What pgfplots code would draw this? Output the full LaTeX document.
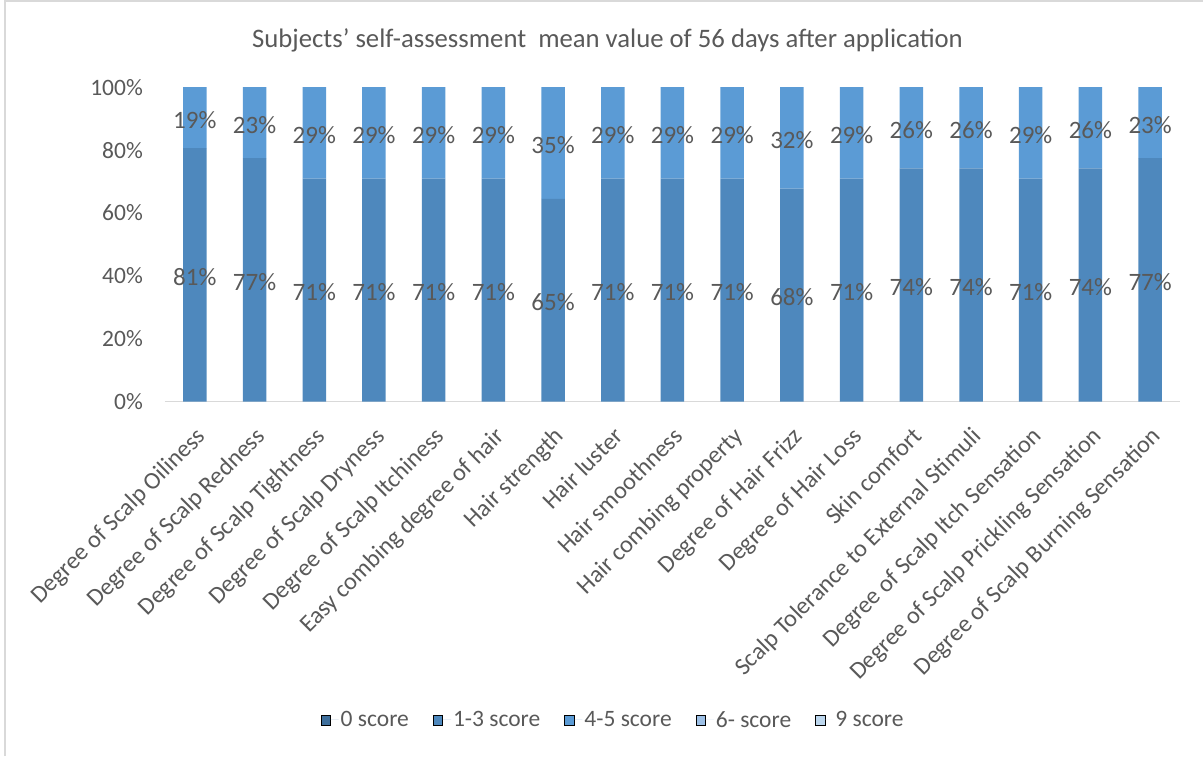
\documentclass[border=0pt]{standalone}
\usepackage{fontspec}
\setmainfont{Carlito}
\usepackage{pgfplots}
\usepackage{pgfplotstable}
\pgfplotsset{compat=1.18}
\definecolor{txt}{HTML}{595959}
\definecolor{cA}{HTML}{3E6F9C}
\definecolor{cB}{HTML}{4E88BD}
\definecolor{cC}{HTML}{5B9BD5}
\definecolor{cD}{HTML}{9DC0E6}
\definecolor{cE}{HTML}{BDD7EE}
\definecolor{axgray}{HTML}{D9D9D9}
\pgfplotstableread{
x s0 s13 s45 s6 s9
0 0 80.65 19.35 0 0
1 0 77.42 22.58 0 0
2 0 70.97 29.03 0 0
3 0 70.97 29.03 0 0
4 0 70.97 29.03 0 0
5 0 70.97 29.03 0 0
6 0 64.52 35.48 0 0
7 0 70.97 29.03 0 0
8 0 70.97 29.03 0 0
9 0 70.97 29.03 0 0
10 0 67.74 32.26 0 0
11 0 70.97 29.03 0 0
12 0 74.19 25.81 0 0
13 0 74.19 25.81 0 0
14 0 70.97 29.03 0 0
15 0 74.19 25.81 0 0
16 0 77.42 22.58 0 0
}\data
\begin{document}
\begin{tikzpicture}
\path[use as bounding box] (0,0) rectangle (1203pt,756pt);
\draw[axgray, line width=1.5pt] (5pt,0) -- (5pt,755pt) -- (1203pt,755pt);
\node[text=txt, font=\fontsize{26.7}{30}\selectfont] at (607.5pt,716pt) {Subjects' self-assessment\ \ mean value of 56 days after application};
\begin{axis}[
  at={(165pt,354.3pt)}, anchor=south west,
  scale only axis, width=1015pt, height=314.5pt,
  ybar stacked, bar width=23.5pt,
  xmin=-0.5, xmax=16.5, ymin=0, ymax=100,
  xtick=data,
  xticklabels={Degree of Scalp Oiliness,Degree of Scalp Redness,Degree of Scalp Tightness,Degree of Scalp Dryness,Degree of Scalp Itchiness,Easy combing degree of hair,Hair strength,Hair luster,Hair smoothness,Hair combing property,Degree of Hair Frizz,Degree of Hair Loss,Skin comfort,Scalp Tolerance to External Stimuli,Degree of Scalp Itch Sensation,Degree of Scalp Prickling Sensation,Degree of Scalp Burning Sensation},
  xticklabel style={xshift=12pt, yshift=-36pt, rotate=45, anchor=base east, inner sep=0pt, font=\fontsize{24.3}{28}\selectfont, text=txt},
  ytick={0,20,40,60,80,100},
  yticklabel={\pgfmathprintnumber{\tick}\%},
  yticklabel style={font=\fontsize{23.5}{27}\selectfont, text=txt, anchor=east, inner sep=0pt, xshift=-22pt},
  /pgf/number format/assume math mode=true,
  separate axis lines,
  axis x line*=bottom, axis y line*=left,
  x axis line style={draw=axgray, line width=1.5pt},
  y axis line style={draw=none},
  major tick length=0pt,
  legend columns=-1,
  legend style={at={(0.4414,-1.012)}, anchor=center, draw=none, fill=none,
    font=\fontsize{23.5}{28}\selectfont, text=txt,
    /tikz/every even column/.append style={column sep=22pt}},
  legend image code/.code={\draw[#1] (0pt,-5pt) rectangle (9.5pt,5pt); \path (9.5pt,0pt) -- (18pt,0pt);},
  every node near coord/.append style={font=\fontsize{25}{29}\selectfont, text=txt},
]
\addplot[fill=cA, draw=none] table[x=x,y=s0] {\data};
\addlegendentry{0 score}
\addplot[fill=cB, draw=none,
  visualization depends on={rawy \as \rawy},
  nodes near coords={\pgfmathprintnumber[fixed,precision=0]{\rawy}\%},
  every node near coord/.append style={anchor=center, yshift=-2pt}]
  table[x=x,y=s13] {\data};
\addlegendentry{1-3 score}
\addplot[fill=cC, draw=none,
  visualization depends on={rawy \as \rawy},
  nodes near coords={\pgfmathprintnumber[fixed,precision=0]{\rawy}\%},
  every node near coord/.append style={anchor=center, yshift=-2pt}]
  table[x=x,y=s45] {\data};
\addlegendentry{4-5 score}
\addplot[fill=cD, draw=none] table[x=x,y=s6] {\data};
\addlegendentry{6- score}
\addplot[fill=cE, draw=none] table[x=x,y=s9] {\data};
\addlegendentry{9 score}
\end{axis}
\end{tikzpicture}
\end{document}
